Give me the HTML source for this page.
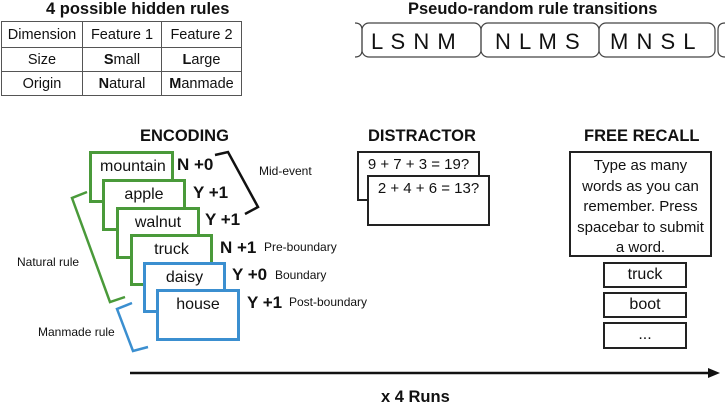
<!DOCTYPE html>
<html><head><style>
body{margin:0;width:725px;height:411px;background:#fff;position:relative;overflow:hidden;font-family:"Liberation Sans",sans-serif;color:#111}
.a{position:absolute;white-space:nowrap}
.t{font-weight:bold;font-size:16.5px}
table{position:absolute;left:1px;top:21px;border-collapse:collapse;font-size:14.5px}
td{border:1px solid #555;text-align:center;height:23px;padding:0}
.b{position:absolute;box-sizing:border-box;background:#fff;font-size:16px;text-align:center}
.g{border:3px solid #4a9a3a;padding-top:4px}.bl{border:3px solid #3b8fd0;padding-top:4px}.k{border:2px solid #222}
.lab{font-weight:bold;font-size:17px}
.s{font-size:12px}
</style></head><body>
<div class="a t" style="left:46px;top:0px">4 possible hidden rules</div>
<div class="a t" style="left:408px;top:0px">Pseudo-random rule transitions</div>
<table>
<tr><td style="width:80px;height:25px">Dimension</td><td style="width:78px">Feature 1</td><td style="width:79px">Feature 2</td></tr>
<tr><td>Size</td><td><b>S</b>mall</td><td><b>L</b>arge</td></tr>
<tr><td>Origin</td><td><b>N</b>atural</td><td><b>M</b>anmade</td></tr>
</table>
<svg class="a" style="left:0;top:0" width="725" height="411">
<g fill="none" stroke="#444" stroke-width="1.2">
<path d="M355 23 Q362 23 362 30 V50 Q362 57 355 57"/>
<rect x="362" y="23" width="119" height="34" rx="7"/>
<rect x="481" y="23" width="118" height="34" rx="7"/>
<rect x="599" y="23" width="116" height="34" rx="7"/>
<path d="M725 23 Q718 23 718 30 V50 Q718 57 725 57"/>
</g>
<polyline points="215,155 228,152 258,207 245,214" fill="none" stroke="#111" stroke-width="2.5"/>
<polyline points="87,192 72,198 110,302 125,297" fill="none" stroke="#4a9a3a" stroke-width="2.5"/>
<polyline points="132,303 117,309 133,351 148,347" fill="none" stroke="#3b8fd0" stroke-width="2.5"/>
<line x1="130" y1="373" x2="710" y2="373" stroke="#111" stroke-width="2.5"/>
<polygon points="708,368 720,373 708,378" fill="#111"/>
</svg>
<div class="a" style="left:371px;top:29px;font-size:22px;word-spacing:2px">L S N M</div>
<div class="a" style="left:495px;top:29px;font-size:22px;word-spacing:2px">N L M S</div>
<div class="a" style="left:610px;top:29px;font-size:22px;word-spacing:2px">M N S L</div>

<div class="a t" style="left:140px;top:127px">ENCODING</div>
<div class="b g" style="left:89px;top:151px;width:85px;height:52px;text-align:left;padding-left:8px">mountain</div>
<div class="b g" style="left:102px;top:179px;width:84px;height:52px">apple</div>
<div class="b g" style="left:116px;top:207px;width:84px;height:52px">walnut</div>
<div class="b g" style="left:130px;top:234px;width:83px;height:52px">truck</div>
<div class="b bl" style="left:143px;top:262px;width:83px;height:51px">daisy</div>
<div class="b bl" style="left:156px;top:289px;width:84px;height:52px">house</div>
<div class="a lab" style="left:177px;top:155px">N +0</div>
<div class="a lab" style="left:193px;top:183px">Y +1</div>
<div class="a lab" style="left:205px;top:210px">Y +1</div>
<div class="a lab" style="left:220px;top:238px">N +1</div>
<div class="a lab" style="left:232px;top:265px">Y +0</div>
<div class="a lab" style="left:247px;top:293px">Y +1</div>
<div class="a s" style="left:259px;top:164px">Mid-event</div>
<div class="a s" style="left:264px;top:240px">Pre-boundary</div>
<div class="a s" style="left:275px;top:268px">Boundary</div>
<div class="a s" style="left:289px;top:295px">Post-boundary</div>
<div class="a s" style="left:17px;top:255px">Natural rule</div>
<div class="a s" style="left:38px;top:325px">Manmade rule</div>

<div class="a t" style="left:368px;top:127px">DISTRACTOR</div>
<div class="b k" style="left:357px;top:151px;width:123px;height:50px;padding-top:3px;font-size:15px">9 + 7 + 3 = 19?</div>
<div class="b k" style="left:367px;top:175px;width:123px;height:51px;padding-top:3px;font-size:15px">2 + 4 + 6 = 13?</div>

<div class="a t" style="left:584px;top:127px">FREE RECALL</div>
<div class="b k" style="left:569px;top:151px;width:143px;height:106px;line-height:20.5px;padding-top:3px;font-size:15px">Type as many<br>words as you can<br>remember. Press<br>spacebar to submit<br>a word.</div>
<div class="b k" style="left:603px;top:262px;width:84px;height:26px;line-height:22px">truck</div>
<div class="b k" style="left:603px;top:292px;width:84px;height:26px;line-height:22px">boot</div>
<div class="b k" style="left:603px;top:322px;width:84px;height:27px;line-height:22px">...</div>
<div class="a t" style="left:381px;top:388px">x 4 Runs</div>
</body></html>
